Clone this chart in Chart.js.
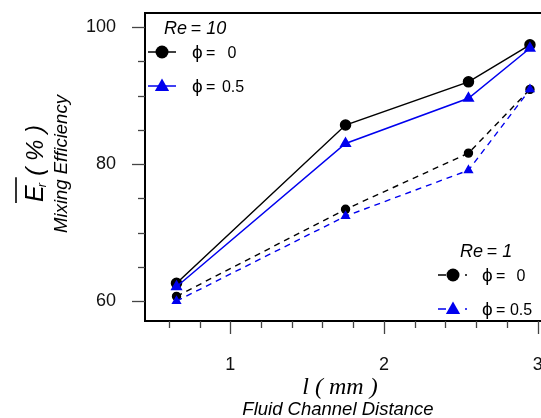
<!DOCTYPE html>
<html>
<head>
<meta charset="utf-8">
<script src="https://cdn.jsdelivr.net/npm/chart.js@4.4.1/dist/chart.umd.min.js"></script>
<style>
  html, body { margin: 0; padding: 0; background: #fff; }
  #wrap { width: 541px; height: 418px; overflow: hidden; position: relative; }
  #inner { width: 560px; height: 418px; }
</style>
</head>
<body>
<div id="wrap"><div id="inner"><canvas id="chart" width="560" height="418"></canvas></div></div>
<script>
// channel distance l (mm)
const distances = [0.65, 1.75, 2.55, 2.95];
// mixing efficiency (%)
const re10phi0 = [62.6, 85.7, 92.0, 97.4];
const re10phi05 = [62.1, 83.0, 89.6, 96.9];
const re1phi0 = [60.7, 73.4, 81.6, 90.9];
const re1phi05 = [60.0, 72.4, 79.1, 90.9];

const xTicks = [0.6, 0.8, 1.0, 1.2, 1.4, 1.6, 1.8, 2.0, 2.2, 2.4, 2.6, 2.8, 3.0];
const xLabels = [1, 2, 3];
const yTicks = [60, 65, 70, 75, 80, 85, 90, 95, 100];
const yLabels = [60, 80, 100];

const SANS = '"Liberation Sans", Arial, sans-serif';
const SERIF = '"Liberation Serif", "Times New Roman", serif';

function pts(ys) {
    return distances.map((x, i) => ({ x: x, y: ys[i] }));
}

function noPad(s) {
    s.paddingTop = 0;
    s.paddingBottom = 0;
    s.paddingLeft = 0;
    s.paddingRight = 0;
}

// axis frame, tick marks, titles and the two legends
const decor = {
    id: 'decor',
    afterDraw(chart) {
        const ctx = chart.ctx;
        const a = chart.chartArea;
        const xs = chart.scales.x, ys = chart.scales.y;
        ctx.save();
        ctx.strokeStyle = '#000';
        ctx.lineWidth = 2;
        ctx.strokeRect(a.left, a.top, a.right - a.left, a.bottom - a.top);

        ctx.lineWidth = 1.3;
        ctx.strokeStyle = '#444';
        yTicks.forEach(v => {
            const y = Math.round(ys.getPixelForValue(v)) + 0.5;
            const len = yLabels.includes(v) ? 13 : 7;
            ctx.beginPath();
            ctx.moveTo(a.left - len, y);
            ctx.lineTo(a.left, y);
            ctx.stroke();
        });
        xTicks.forEach(v => {
            const x = Math.round(xs.getPixelForValue(v)) + 0.5;
            const len = xLabels.some(l => Math.abs(l - v) < 1e-6) ? 13 : 7;
            ctx.beginPath();
            ctx.moveTo(x, a.bottom);
            ctx.lineTo(x, a.bottom + len);
            ctx.stroke();
        });

        // x titles
        ctx.fillStyle = '#000';
        ctx.textAlign = 'center';
        ctx.textBaseline = 'alphabetic';
        ctx.font = 'italic 24px ' + SERIF;
        ctx.fillText('l ( mm )', 340, 394);
        ctx.font = 'italic 18.5px ' + SANS;
        ctx.fillText('Fluid Channel Distance', 338, 415);

        // y titles
        ctx.save();
        ctx.translate(43, 202);
        ctx.rotate(-Math.PI / 2);
        ctx.textAlign = 'left';
        ctx.font = 'italic 25px ' + SANS;
        ctx.fillText('E', 0, 0);
        const ew = ctx.measureText('E').width;
        ctx.lineWidth = 1.6;
        ctx.strokeStyle = '#000';
        ctx.beginPath();
        ctx.moveTo(-1, -27);
        ctx.lineTo(ew + 8, -27);
        ctx.stroke();
        ctx.font = 'italic 13px ' + SANS;
        ctx.fillText('r', ew - 2, 3);
        ctx.font = 'italic 24px ' + SANS;
        ctx.fillText(' ( % )', ew + 3, 0);
        ctx.restore();

        ctx.save();
        ctx.translate(67, 164);
        ctx.rotate(-Math.PI / 2);
        ctx.textAlign = 'center';
        ctx.font = 'italic 18.5px ' + SANS;
        ctx.fillText('Mixing Efficiency', 0, 0);
        ctx.restore();

        // legends
        function marker(kind, x, y, r, color) {
            ctx.fillStyle = color;
            ctx.beginPath();
            if (kind === 'circle') {
                ctx.arc(x, y, r, 0, Math.PI * 2);
            } else {
                ctx.moveTo(x, y - r * 1.15);
                ctx.lineTo(x + r * 1.1, y + r * 0.75);
                ctx.lineTo(x - r * 1.1, y + r * 0.75);
                ctx.closePath();
            }
            ctx.fill();
        }
        function entry(x1, x2, y, dash, color, kind, mx, r, label, tx, lx) {
            ctx.strokeStyle = color;
            ctx.lineWidth = 1.5;
            ctx.setLineDash(dash);
            ctx.beginPath();
            ctx.moveTo(x1, y);
            ctx.lineTo(x2, y);
            ctx.stroke();
            ctx.setLineDash([]);
            marker(kind, mx, y, r, color);
            ctx.fillStyle = '#000';
            ctx.textBaseline = 'middle';
            ctx.textAlign = 'left';
            ctx.font = '19px ' + SANS;
            ctx.fillText('\u03d5', tx - 1, y + 1);
            ctx.font = '16px ' + SANS;
            ctx.fillText('=', tx + 13, y + 2);
            ctx.textAlign = 'center';
            ctx.fillText(label, lx, y + 2);
        }
        ctx.textBaseline = 'alphabetic';
        ctx.textAlign = 'left';
        ctx.fillStyle = '#000';
        ctx.font = 'italic 18px ' + SANS;
        ctx.fillText('Re\u2009= 10', 164, 34);
        entry(148, 176, 52, [], '#000', 'circle', 162, 6.5, '0', 193, 232);
        entry(148, 176, 86, [], '#0000ee', 'triangle', 162, 6.5, '0.5', 193, 233);

        ctx.textBaseline = 'alphabetic';
        ctx.textAlign = 'left';
        ctx.fillStyle = '#000';
        ctx.font = 'italic 18px ' + SANS;
        ctx.fillText('Re\u2009= 1', 460, 257);
        entry(438, 468, 275, [8, 19, 2, 100], '#000', 'circle', 453, 6.5, '0', 483, 521);
        entry(438, 468, 309, [8, 19, 2, 100], '#0000ee', 'triangle', 453, 6.5, '0.5', 483, 521);

        ctx.restore();
    }
};

const ctx = document.getElementById('chart').getContext('2d');
new Chart(ctx, {
    type: 'scatter',
    data: {
        datasets: [
            {
                label: 'Re = 10, phi = 0',
                data: pts(re10phi0),
                showLine: true,
                borderColor: '#000',
                backgroundColor: '#000',
                borderWidth: 1.5,
                pointStyle: 'circle',
                pointRadius: 5,
                order: 2
            },
            {
                label: 'Re = 10, phi = 0.5',
                data: pts(re10phi05),
                showLine: true,
                borderColor: '#0000ee',
                backgroundColor: '#0000ee',
                borderWidth: 1.5,
                pointStyle: 'triangle',
                pointRadius: 5.5,
                order: 1
            },
            {
                label: 'Re = 1, phi = 0',
                data: pts(re1phi0),
                showLine: true,
                borderColor: '#000',
                backgroundColor: '#000',
                borderWidth: 1.4,
                borderDash: [6, 5],
                pointStyle: 'circle',
                pointRadius: 4,
                order: 4
            },
            {
                label: 'Re = 1, phi = 0.5',
                data: pts(re1phi05),
                showLine: true,
                borderColor: '#0000ee',
                backgroundColor: '#0000ee',
                borderWidth: 1.4,
                borderDash: [6, 5],
                pointStyle: 'triangle',
                pointRadius: 4.5,
                order: 3
            }
        ]
    },
    options: {
        responsive: false,
        animation: false,
        events: [],
        layout: { padding: { top: 13, right: 4, left: 0, bottom: 0 } },
        plugins: {
            legend: { display: false },
            tooltip: { enabled: false }
        },
        scales: {
            x: {
                type: 'linear',
                min: 0.445,
                max: 3.1,
                border: { display: false },
                grid: { display: false, drawTicks: false },
                afterBuildTicks: s => { s.ticks = xTicks.map(v => ({ value: v })); },
                afterFit: s => { s.height = 97; noPad(s); },
                ticks: {
                    autoSkip: false,
                    maxRotation: 0,
                    padding: 33,
                    color: '#111',
                    font: { family: SANS, size: 18 },
                    callback: v => xLabels.some(l => Math.abs(l - v) < 1e-6) ? String(Math.round(v)) : ''
                }
            },
            y: {
                type: 'linear',
                min: 57.1,
                max: 102.05,
                border: { display: false },
                grid: { display: false, drawTicks: false },
                afterBuildTicks: s => { s.ticks = yTicks.map(v => ({ value: v })); },
                afterFit: s => { s.width = 145; noPad(s); },
                ticks: {
                    autoSkip: false,
                    padding: 29,
                    color: '#111',
                    font: { family: SANS, size: 18 },
                    callback: v => yLabels.includes(v) ? String(v) : ''
                }
            }
        }
    },
    plugins: [decor]
});
</script>
</body>
</html>
